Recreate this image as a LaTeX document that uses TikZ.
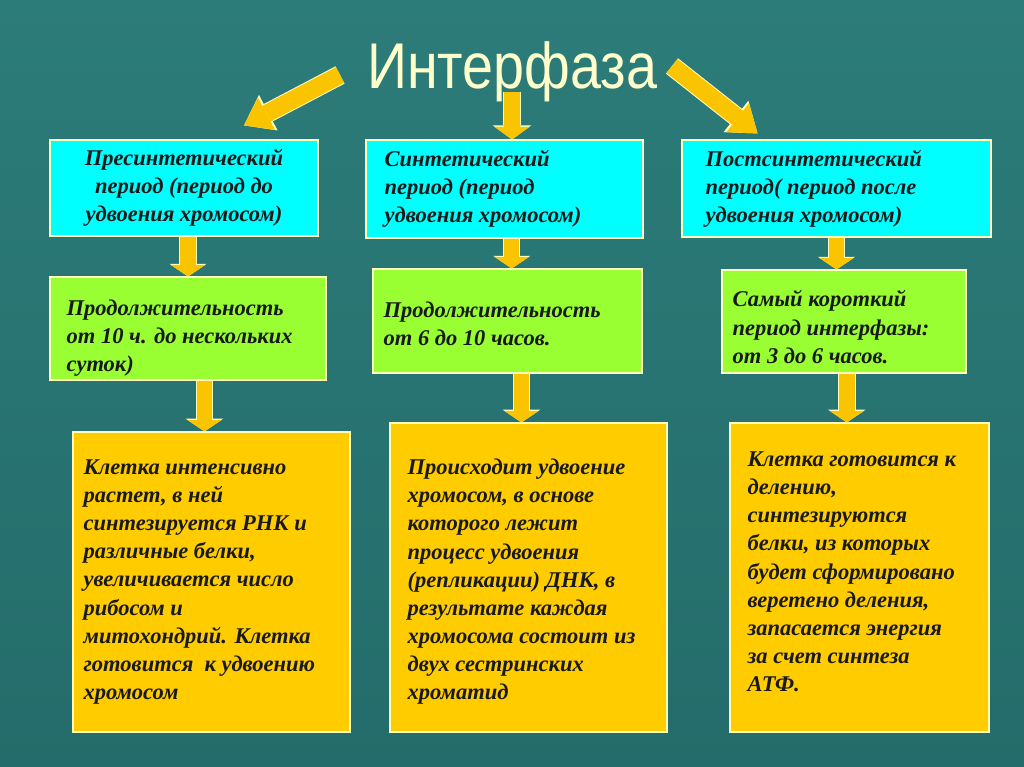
\documentclass[tikz,border=0pt]{standalone}
\usepackage{graphicx}
\usepackage{fontspec}
\setmainfont{Liberation Serif}
\newfontfamily\headfont{Liberation Sans}
\usetikzlibrary{positioning,arrows.meta}

\definecolor{bgtop}{RGB}{44,124,121}
\definecolor{bgbot}{RGB}{36,108,107}
\definecolor{cyanfill}{RGB}{0,255,255}
\definecolor{greenfill}{RGB}{153,255,51}
\definecolor{goldfill}{RGB}{255,204,0}
\definecolor{arrowgold}{RGB}{250,196,0}
\definecolor{rim}{RGB}{255,255,190}
\definecolor{headcol}{RGB}{255,255,204}

\begin{document}
\begin{tikzpicture}
  [x=0.025cm,y=-0.025cm,
   stagebox/.style={draw=rim,line width=0.8pt,inner sep=0pt},
   periodbox/.style={stagebox,fill=cyanfill},
   timebox/.style={stagebox,fill=greenfill},
   eventbox/.style={stagebox,fill=goldfill},
   txt/.style={inner sep=0pt,align=left,text=black!90,
     font=\bfseries\itshape\fontsize{16}{20}\selectfont},
   heading/.style={inner sep=0pt,anchor=base,
     font=\headfont\fontsize{46}{50}\selectfont},
   smallarrow/.style={line width=11pt,draw=arrowgold,
     -{Triangle[length=8pt,width=24pt,line width=0pt]},
     preaction={draw=rim,line width=12.4pt,
       -{Triangle[length=9pt,width=26.5pt,line width=0pt]}}},
   bigarrow/.style={line width=11.5pt,draw=arrowgold,
     -{Triangle[length=9pt,width=25pt,line width=0pt]},
     preaction={draw=rim,line width=12.9pt,
       -{Triangle[length=10pt,width=27.5pt,line width=0pt]}}},
   slantarrow/.style={line width=12.5pt,draw=arrowgold,
     -{Triangle[length=18pt,width=26pt,line width=0pt]},
     preaction={draw=rim,line width=13.9pt,
       -{Triangle[length=19.5pt,width=28.5pt,line width=0pt]}}}]

  % background
  \shade[top color=bgtop,bottom color=bgbot] (0,0) rectangle (1024,767);

  % title
  \node[heading,text=headcol] (t) at (512,89)
    {\scalebox{0.86}[1]{Интерфаза}};

  % periods
  \node[periodbox,minimum width=6.7cm,minimum height=2.4cm] (c1) at (184,188) {};
  \node[periodbox,minimum width=6.925cm,minimum height=2.45cm] (c2) at (504.5,189) {};
  \node[periodbox,minimum width=7.725cm,minimum height=2.425cm] (c3) at (836.5,188.5) {};

  % durations
  \node[timebox,minimum width=6.9cm,minimum height=2.575cm] (g1) at (188,328.5) {};
  \node[timebox,minimum width=6.725cm,minimum height=2.6cm] (g2) at (507.5,321) {};
  \node[timebox,minimum width=6.1cm,minimum height=2.575cm] (g3) at (844,321.5) {};

  % events
  \node[eventbox,minimum width=6.925cm,minimum height=7.5cm] (o1) at (211.5,582) {};
  \node[eventbox,minimum width=6.925cm,minimum height=7.725cm] (o2) at (528.5,577.5) {};
  \node[eventbox,minimum width=6.475cm,minimum height=7.725cm] (o3) at (859.5,577.5) {};

  % texts
  \node[txt,align=center] (c1t) at (c1.center)
    {Пресинтетический\\период (период до\\удвоения хромосом)};
  \node[txt,right=0.475cm of c2.west] (c2t)
    {Синтетический\\период (период\\удвоения хромосом)};
  \node[txt,right=0.6cm of c3.west] (c3t)
    {Постсинтетический\\период( период после\\удвоения хромосом)};

  \node[txt,right=0.425cm of g1.west,yshift=-7pt] (g1t)
    {Продолжительность\\от 10 ч. до нескольких\\суток)};
  \node[txt,right=0.275cm of g2.west,yshift=-2pt] (g2t)
    {Продолжительность\\от 6 до 10 часов.};
  \node[txt,right=0.275cm of g3.west,yshift=-4pt] (g3t)
    {Самый короткий\\период интерфазы:\\от 3 до 6 часов.};

  \node[txt,right=0.275cm of o1.west] (o1t)
    {Клетка интенсивно\\растет, в ней\\синтезируется РНК и\\различные белки,\\увеличивается число\\рибосом и\\митохондрий. Клетка\\готовится~ к удвоению\\хромосом};
  \node[txt,right=0.45cm of o2.west,yshift=-3pt] (o2t)
    {Происходит удвоение\\хромосом, в основе\\которого лежит\\процесс удвоения\\(репликации) ДНК, в\\результате каждая\\хромосома состоит из\\двух сестринских\\хроматид};
  \node[txt,right=0.45cm of o3.west,yshift=4pt] (o3t)
    {Клетка готовится к\\делению,\\синтезируются\\белки, из которых\\будет сформировано\\веретено деления,\\запасается энергия\\за счет синтеза\\АТФ.};

  % arrows from the title
  \draw[slantarrow] ([shift={(-172,-14)}]t.base) -- ([shift={(60,-14)}]c1.north);
  \draw[bigarrow] ([shift={(0,3)}]t.base) -- (t.base |- c2.north);
  \draw[slantarrow] ([shift={(160,-23)}]t.base) -- ([shift={(-79,-6)}]c3.north);

  % arrows between the rows
  \draw[smallarrow] (c1.south -| g1.north) -- (g1.north);
  \draw[smallarrow] ([xshift=3pt]c2.south -| g2.north) -- ([xshift=3pt]g2.north);
  \draw[smallarrow] (c3.south) -- (c3.south |- g3.north);
  \draw[smallarrow] ([xshift=-5pt]o1.north |- g1.south) -- ([xshift=-5pt]o1.north);
  \draw[smallarrow] ([xshift=-5pt]o2.north |- g2.south) -- ([xshift=-5pt]o2.north);
  \draw[smallarrow] ([xshift=2pt]g3.south) -- ([xshift=2pt]g3.south |- o3.north);

\end{tikzpicture}
\end{document}
